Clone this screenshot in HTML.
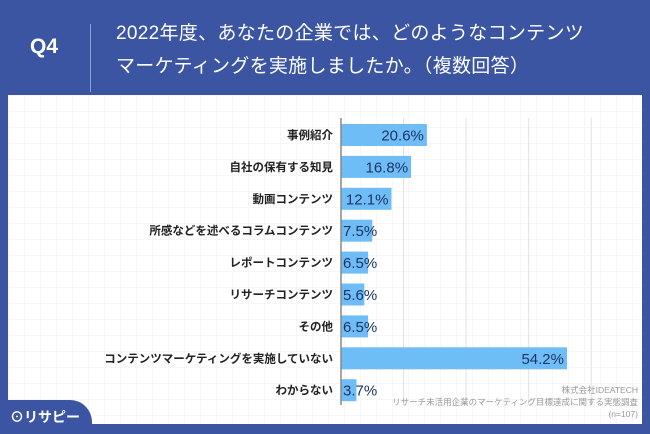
<!DOCTYPE html>
<html><head><meta charset="utf-8"><style>
body{margin:0;width:650px;height:434px;overflow:hidden;background:#3b55a3;font-family:"Liberation Sans","Noto Sans CJK JP",sans-serif;position:relative}
.abs{position:absolute}
</style></head><body>
<div class="abs" style="left:30px;top:35px;color:#fff;font-size:21px;font-weight:bold">Q4</div>
<div class="abs" style="left:90px;top:24px;width:1px;height:68px;background:#8c9fd0"></div>
<div class="abs" style="left:116px;top:17px;color:#fff;font-size:19px;line-height:33px;letter-spacing:0.3px">2022年度、あなたの企業では、どのようなコンテンツ<br>マーケティングを実施しましたか。（複数回答）</div>
<div class="abs" style="left:8px;top:95px;width:634px;height:329px;background:#fff;background-image:linear-gradient(#f6f6f6 1px,transparent 1px),linear-gradient(90deg,#f6f6f6 1px,transparent 1px);background-size:16px 16px"></div>
<svg class="abs" style="left:0;top:0" width="650" height="434" id="chart"></svg>
<div class="abs" style="left:0;top:400px;width:92px;height:34px;background:#3b55a3;border-top-right-radius:22px"></div>
<div class="abs" style="left:10px;top:407px;color:#fff;font-size:14px;font-weight:bold">⊙リサピー</div>
<div class="abs" style="right:12px;top:384px;text-align:right;color:#999;font-size:8.5px;line-height:12px">株式会社IDEATECH<br>リサーチ未活用企業のマーケティング目標達成に関する実態調査<br>(n=107)</div>
<script>
const categories=["事例紹介","自社の保有する知見","動画コンテンツ","所感などを述べるコラムコンテンツ","レポートコンテンツ","リサーチコンテンツ","その他","コンテンツマーケティングを実施していない","わからない"];
const values=[20.6,16.8,12.1,7.5,6.5,5.6,6.5,54.2,3.7];
const ticks=[0,15,30,45,60];
const svg=document.getElementById('chart');
const NS='http://www.w3.org/2000/svg';
const x0=341,ppu=4.17,y0=135,pitch=31.9,bh=22;
const X=v=>x0+v*ppu, Y=i=>y0+i*pitch;
function mk(t,a){const e=document.createElementNS(NS,t);for(const k in a)e.setAttribute(k,a[k]);svg.appendChild(e);return e;}
ticks.forEach(t=>{if(t===0)return;const l=mk('line',{x1:X(t),x2:X(t),y1:118,y2:405,stroke:'#e2e2e2','stroke-width':1});

});
values.forEach((v,i)=>{
const r=mk('rect',{x:x0,y:Y(i)-bh/2,width:v*ppu,height:bh,fill:'#6fbdf7'});


const w=v*ppu;const tx=w>45?x0+w-3:x0+2;
const t=mk('text',{x:tx,y:Y(i)+5.5,'text-anchor':w>45?'end':'start','font-size':15,fill:'#1b3563'});t.textContent=v.toFixed(1)+'%';


const c=mk('text',{x:333,y:Y(i)+4,'text-anchor':'end','font-size':11.5,'font-weight':'bold',fill:'#222'});c.textContent=categories[i];


});
const ax=mk('line',{x1:x0,x2:x0,y1:118,y2:405,stroke:'#888','stroke-width':1.5});


</script>
</body></html>
